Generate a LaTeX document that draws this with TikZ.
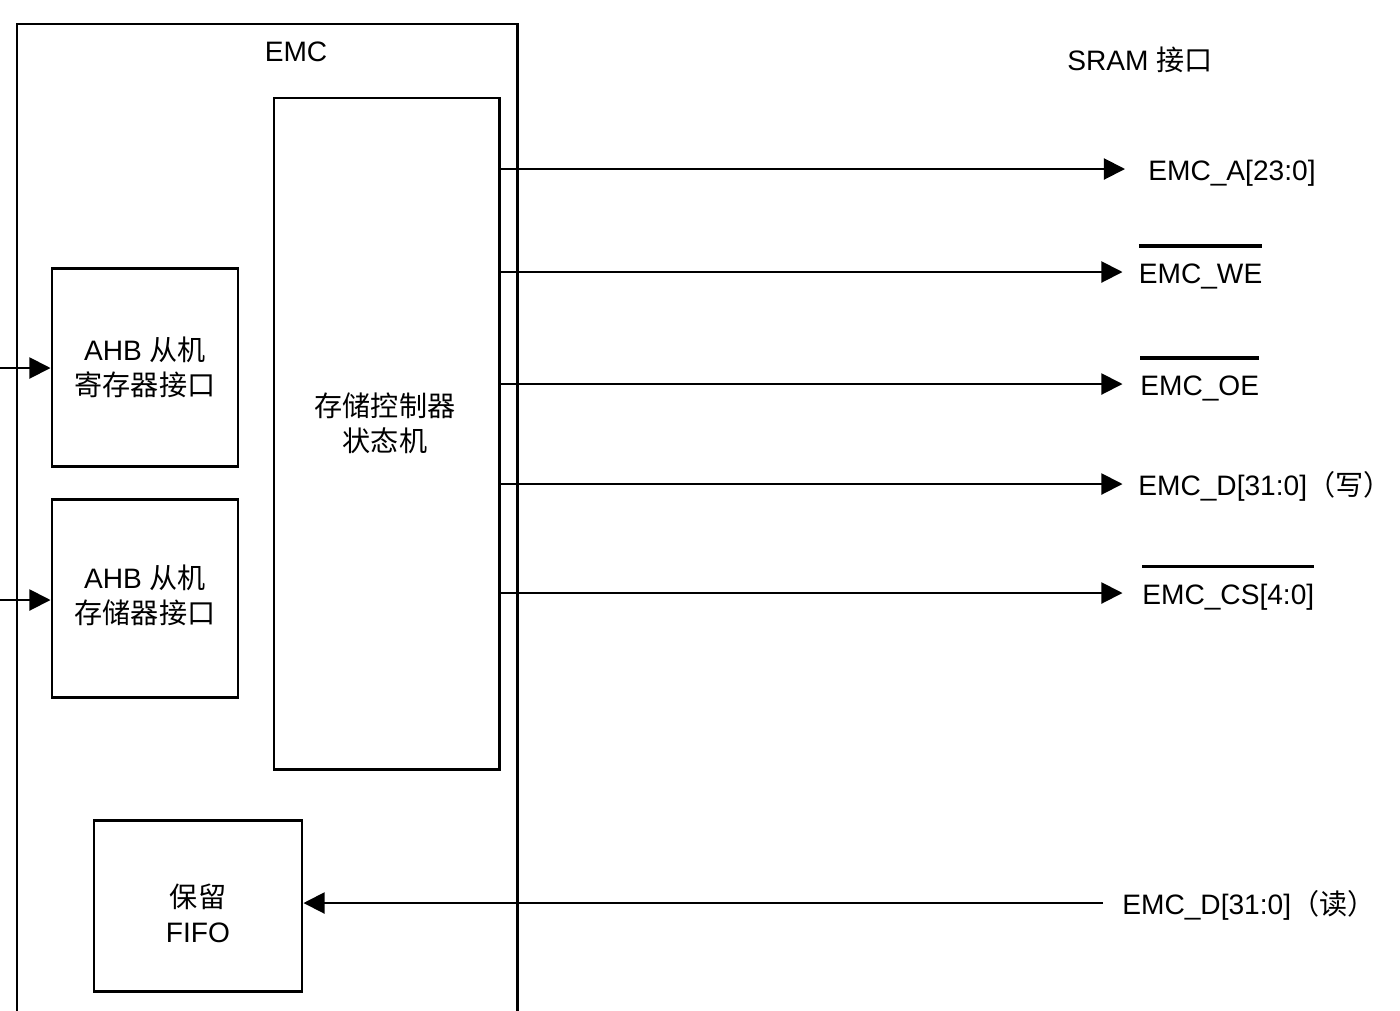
\documentclass[tikz,border=0pt]{standalone}
\usepackage{fontspec}
\setmainfont{Liberation Sans}
\newfontfamily\cjk{Noto Sans CJK SC}
\usetikzlibrary{arrows.meta}
% signal name with a bar on top (active low)
\newcommand{\lowsig}[1]{\vbox{\hrule height 1.8pt\kern 9pt\hbox{#1}}}

\begin{document}
\begin{tikzpicture}[
    box/.style={draw, line width=1.7pt, rectangle, align=center,
                inner sep=0pt},
    arrow/.style={-{Triangle[length=12pt,width=12pt]}, line width=1.1pt},
    sig/.style={anchor=base west, inner sep=0pt, yshift=-0.22cm},
    every node/.style={font=\fontsize{16}{20}\selectfont}
]
    \useasboundingbox (0,0) rectangle (28,-20.2);

    % EMC block, open at the bottom
    \draw[line width=1.7pt] (0.34,-20.4) -- (0.34,-0.48) -- (10.34,-0.48) -- (10.34,-20.4);
    \node (emc) at (5.92,-1.04) {EMC};
    \node (sram) at (22.8,-1.2) {SRAM {\cjk 接口}};

    \node[box, minimum width=4.5cm, minimum height=13.42cm] (fsm) at (7.73,-8.67) {};
    \node[align=center] (fsmtxt) at (7.7,-8.46) {{\cjk 存储控制器}\\{\cjk 状态机}};
    \node[box, minimum width=3.72cm, minimum height=3.96cm] (regif) at (2.9,-7.34)
        {AHB {\cjk 从机}\\{\cjk 寄存器接口}};
    \node[box, minimum width=3.72cm, minimum height=3.96cm] (memif) at (2.9,-11.96) {};
    \node[align=center] (memtxt) at (2.9,-11.9) {AHB {\cjk 从机}\\{\cjk 存储器接口}};
    \node[box, minimum width=4.16cm, minimum height=3.42cm] (fifo) at (3.96,-18.11) {};
    \node[align=center] (fifotxt) at (3.96,-18.26) {{\cjk 保留}\\FIFO};

    % AHB inputs
    \coordinate (inreg) at (0,-7.36);
    \coordinate (inmem) at (0,-12.0);
    \draw[arrow] (inreg) -- (inreg -| regif.west);
    \draw[arrow] (inmem) -- (inmem -| memif.west);

    % SRAM outputs
    \coordinate (addr) at (22.5,-3.38);
    \coordinate (we) at (22.45,-5.44);
    \coordinate (oe) at (22.45,-7.68);
    \coordinate (dw) at (22.45,-9.68);
    \coordinate (cs) at (22.45,-11.86);
    \draw[arrow] (addr -| fsm.east) -- (addr);
    \draw[arrow] (we -| fsm.east) -- (we);
    \draw[arrow] (oe -| fsm.east) -- (oe);
    \draw[arrow] (dw -| fsm.east) -- (dw);
    \draw[arrow] (cs -| fsm.east) -- (cs);

    \node[sig] (addrlbl) at (22.96,-3.38) {EMC\_A[23:0]};
    \node[sig] (welbl) at (22.77,-5.44) {\lowsig{EMC\_WE}};
    \node[sig] (oelbl) at (22.8,-7.68) {\lowsig{EMC\_OE}};
    \node[sig] (dwlbl) at (22.76,-9.68) {EMC\_D[31:0]{\cjk （写）}};
    \node[sig] (cslbl) at (22.84,-11.86) {\lowsig{EMC\_CS[4:0]}};

    % read data back into the FIFO
    \coordinate (dr) at (22.06,-18.06);
    \draw[arrow] (dr) -- (dr -| fifo.east);
    \node[sig] (drlbl) at (22.44,-18.06) {EMC\_D[31:0]{\cjk （读）}};
\end{tikzpicture}
\end{document}
